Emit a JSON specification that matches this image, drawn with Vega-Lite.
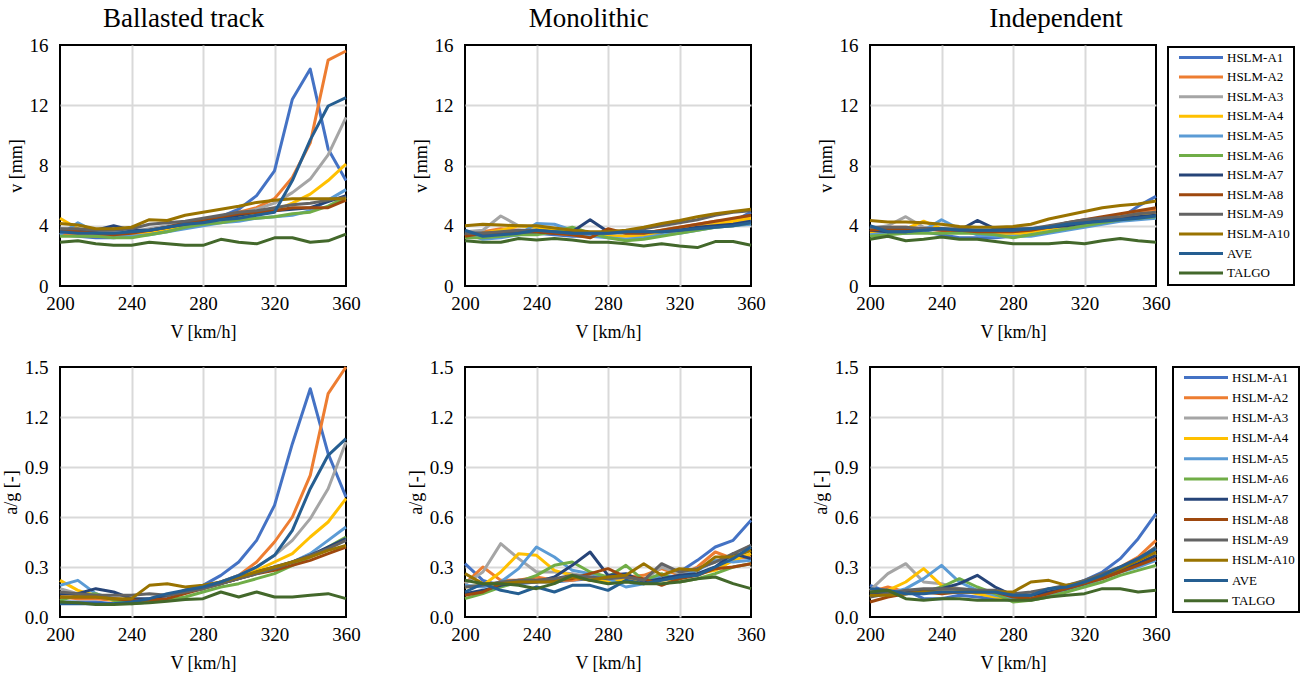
{
  "$schema": "https://vega.github.io/schema/vega-lite/v6.json",
  "background": "white",
  "padding": {"left": 1, "top": 4, "right": 0, "bottom": 0},
  "config": {
    "font": "Liberation Serif",
    "view": {"stroke": "black", "strokeWidth": 2},
    "axis": {
      "domain": false,
      "ticks": false,
      "gridColor": "#d9d9d9",
      "gridWidth": 2,
      "labelFlush": false,
      "labelFont": "Liberation Serif",
      "labelFontSize": 19,
      "labelColor": "black",
      "titleFont": "Liberation Serif",
      "titleFontSize": 18,
      "titleFontWeight": "normal",
      "titleColor": "black"
    },
    "axisX": {"labelPadding": 8, "titlePadding": 10},
    "axisY": {"labelPadding": 12, "titlePadding": 4},
    "title": {"font": "Liberation Serif", "fontSize": 27, "fontWeight": "normal", "color": "black", "frame": "bounds", "offset": 3},
    "line": {"strokeWidth": 3, "strokeJoin": "round"},
    "legend": {
      "title": null,
      "orient": "none",
      "padding": 4,
      "strokeColor": "black",
      "strokeWidth": 2,
      "fillColor": "white",
      "symbolType": "M-4.889,0H4.889",
      "symbolSize": 81,
      "symbolStrokeWidth": 3.5,
      "symbolOffset": 22.5,
      "labelOffset": 19.5,
      "labelFont": "Liberation Serif",
      "labelFontSize": 13,
      "labelColor": "black",
      "rowPadding": 5.6
    }
  },
  "columns": 3,
  "bounds": "flush",
  "spacing": {"row": 81, "column": 119},
  "resolve": {"scale": {"color": "independent"}},
  "datasets": {
    "bv": [
      {"s":"HSLM-A1","V":200,"y":3.4},{"s":"HSLM-A1","V":210,"y":3.3},{"s":"HSLM-A1","V":220,"y":3.2},{"s":"HSLM-A1","V":230,"y":3.2},{"s":"HSLM-A1","V":240,"y":3.3},{"s":"HSLM-A1","V":250,"y":3.5},{"s":"HSLM-A1","V":260,"y":3.8},{"s":"HSLM-A1","V":270,"y":4.1},{"s":"HSLM-A1","V":280,"y":4.3},{"s":"HSLM-A1","V":290,"y":4.6},{"s":"HSLM-A1","V":300,"y":5.1},{"s":"HSLM-A1","V":310,"y":6.0},{"s":"HSLM-A1","V":320,"y":7.65},{"s":"HSLM-A1","V":330,"y":12.4},{"s":"HSLM-A1","V":340,"y":14.4},{"s":"HSLM-A1","V":350,"y":9.1},{"s":"HSLM-A1","V":360,"y":7.0},
      {"s":"HSLM-A2","V":200,"y":3.5},{"s":"HSLM-A2","V":210,"y":3.4},{"s":"HSLM-A2","V":220,"y":3.3},{"s":"HSLM-A2","V":230,"y":3.3},{"s":"HSLM-A2","V":240,"y":3.4},{"s":"HSLM-A2","V":250,"y":3.6},{"s":"HSLM-A2","V":260,"y":3.9},{"s":"HSLM-A2","V":270,"y":4.1},{"s":"HSLM-A2","V":280,"y":4.4},{"s":"HSLM-A2","V":290,"y":4.6},{"s":"HSLM-A2","V":300,"y":4.9},{"s":"HSLM-A2","V":310,"y":5.2},{"s":"HSLM-A2","V":320,"y":5.8},{"s":"HSLM-A2","V":330,"y":7.2},{"s":"HSLM-A2","V":340,"y":9.5},{"s":"HSLM-A2","V":350,"y":15.0},{"s":"HSLM-A2","V":360,"y":15.6},
      {"s":"HSLM-A3","V":200,"y":3.8},{"s":"HSLM-A3","V":210,"y":3.7},{"s":"HSLM-A3","V":220,"y":3.6},{"s":"HSLM-A3","V":230,"y":3.5},{"s":"HSLM-A3","V":240,"y":3.6},{"s":"HSLM-A3","V":250,"y":3.8},{"s":"HSLM-A3","V":260,"y":4.0},{"s":"HSLM-A3","V":270,"y":4.2},{"s":"HSLM-A3","V":280,"y":4.4},{"s":"HSLM-A3","V":290,"y":4.6},{"s":"HSLM-A3","V":300,"y":4.8},{"s":"HSLM-A3","V":310,"y":5.1},{"s":"HSLM-A3","V":320,"y":5.5},{"s":"HSLM-A3","V":330,"y":6.2},{"s":"HSLM-A3","V":340,"y":7.1},{"s":"HSLM-A3","V":350,"y":8.7},{"s":"HSLM-A3","V":360,"y":11.2},
      {"s":"HSLM-A4","V":200,"y":4.5},{"s":"HSLM-A4","V":210,"y":3.8},{"s":"HSLM-A4","V":220,"y":3.5},{"s":"HSLM-A4","V":230,"y":3.4},{"s":"HSLM-A4","V":240,"y":3.5},{"s":"HSLM-A4","V":250,"y":3.6},{"s":"HSLM-A4","V":260,"y":3.8},{"s":"HSLM-A4","V":270,"y":4.0},{"s":"HSLM-A4","V":280,"y":4.2},{"s":"HSLM-A4","V":290,"y":4.4},{"s":"HSLM-A4","V":300,"y":4.6},{"s":"HSLM-A4","V":310,"y":4.8},{"s":"HSLM-A4","V":320,"y":5.0},{"s":"HSLM-A4","V":330,"y":5.5},{"s":"HSLM-A4","V":340,"y":6.1},{"s":"HSLM-A4","V":350,"y":7.0},{"s":"HSLM-A4","V":360,"y":8.1},
      {"s":"HSLM-A5","V":200,"y":3.4},{"s":"HSLM-A5","V":210,"y":4.2},{"s":"HSLM-A5","V":220,"y":3.6},{"s":"HSLM-A5","V":230,"y":3.3},{"s":"HSLM-A5","V":240,"y":3.3},{"s":"HSLM-A5","V":250,"y":3.4},{"s":"HSLM-A5","V":260,"y":3.6},{"s":"HSLM-A5","V":270,"y":3.8},{"s":"HSLM-A5","V":280,"y":4.0},{"s":"HSLM-A5","V":290,"y":4.2},{"s":"HSLM-A5","V":300,"y":4.3},{"s":"HSLM-A5","V":310,"y":4.5},{"s":"HSLM-A5","V":320,"y":4.6},{"s":"HSLM-A5","V":330,"y":4.7},{"s":"HSLM-A5","V":340,"y":5.0},{"s":"HSLM-A5","V":350,"y":5.7},{"s":"HSLM-A5","V":360,"y":6.4},
      {"s":"HSLM-A6","V":200,"y":3.3},{"s":"HSLM-A6","V":210,"y":3.3},{"s":"HSLM-A6","V":220,"y":3.3},{"s":"HSLM-A6","V":230,"y":3.2},{"s":"HSLM-A6","V":240,"y":3.2},{"s":"HSLM-A6","V":250,"y":3.4},{"s":"HSLM-A6","V":260,"y":3.6},{"s":"HSLM-A6","V":270,"y":3.9},{"s":"HSLM-A6","V":280,"y":4.1},{"s":"HSLM-A6","V":290,"y":4.2},{"s":"HSLM-A6","V":300,"y":4.4},{"s":"HSLM-A6","V":310,"y":4.5},{"s":"HSLM-A6","V":320,"y":4.6},{"s":"HSLM-A6","V":330,"y":4.8},{"s":"HSLM-A6","V":340,"y":4.9},{"s":"HSLM-A6","V":350,"y":5.3},{"s":"HSLM-A6","V":360,"y":5.9},
      {"s":"HSLM-A7","V":200,"y":3.6},{"s":"HSLM-A7","V":210,"y":3.6},{"s":"HSLM-A7","V":220,"y":3.7},{"s":"HSLM-A7","V":230,"y":4.0},{"s":"HSLM-A7","V":240,"y":3.7},{"s":"HSLM-A7","V":250,"y":3.7},{"s":"HSLM-A7","V":260,"y":3.9},{"s":"HSLM-A7","V":270,"y":4.1},{"s":"HSLM-A7","V":280,"y":4.3},{"s":"HSLM-A7","V":290,"y":4.5},{"s":"HSLM-A7","V":300,"y":4.7},{"s":"HSLM-A7","V":310,"y":4.9},{"s":"HSLM-A7","V":320,"y":5.0},{"s":"HSLM-A7","V":330,"y":5.1},{"s":"HSLM-A7","V":340,"y":5.2},{"s":"HSLM-A7","V":350,"y":5.6},{"s":"HSLM-A7","V":360,"y":6.0},
      {"s":"HSLM-A8","V":200,"y":3.7},{"s":"HSLM-A8","V":210,"y":3.6},{"s":"HSLM-A8","V":220,"y":3.5},{"s":"HSLM-A8","V":230,"y":3.4},{"s":"HSLM-A8","V":240,"y":3.5},{"s":"HSLM-A8","V":250,"y":3.7},{"s":"HSLM-A8","V":260,"y":3.9},{"s":"HSLM-A8","V":270,"y":4.2},{"s":"HSLM-A8","V":280,"y":4.4},{"s":"HSLM-A8","V":290,"y":4.6},{"s":"HSLM-A8","V":300,"y":4.8},{"s":"HSLM-A8","V":310,"y":4.9},{"s":"HSLM-A8","V":320,"y":5.0},{"s":"HSLM-A8","V":330,"y":5.2},{"s":"HSLM-A8","V":340,"y":5.2},{"s":"HSLM-A8","V":350,"y":5.2},{"s":"HSLM-A8","V":360,"y":5.7},
      {"s":"HSLM-A9","V":200,"y":3.8},{"s":"HSLM-A9","V":210,"y":3.8},{"s":"HSLM-A9","V":220,"y":3.7},{"s":"HSLM-A9","V":230,"y":3.7},{"s":"HSLM-A9","V":240,"y":3.8},{"s":"HSLM-A9","V":250,"y":4.1},{"s":"HSLM-A9","V":260,"y":4.2},{"s":"HSLM-A9","V":270,"y":4.3},{"s":"HSLM-A9","V":280,"y":4.5},{"s":"HSLM-A9","V":290,"y":4.7},{"s":"HSLM-A9","V":300,"y":4.9},{"s":"HSLM-A9","V":310,"y":5.0},{"s":"HSLM-A9","V":320,"y":5.2},{"s":"HSLM-A9","V":330,"y":5.4},{"s":"HSLM-A9","V":340,"y":5.5},{"s":"HSLM-A9","V":350,"y":5.7},{"s":"HSLM-A9","V":360,"y":5.9},
      {"s":"HSLM-A10","V":200,"y":4.15},{"s":"HSLM-A10","V":210,"y":4.05},{"s":"HSLM-A10","V":220,"y":3.8},{"s":"HSLM-A10","V":230,"y":3.8},{"s":"HSLM-A10","V":240,"y":3.9},{"s":"HSLM-A10","V":250,"y":4.4},{"s":"HSLM-A10","V":260,"y":4.35},{"s":"HSLM-A10","V":270,"y":4.7},{"s":"HSLM-A10","V":280,"y":4.9},{"s":"HSLM-A10","V":290,"y":5.1},{"s":"HSLM-A10","V":300,"y":5.3},{"s":"HSLM-A10","V":310,"y":5.55},{"s":"HSLM-A10","V":320,"y":5.7},{"s":"HSLM-A10","V":330,"y":5.8},{"s":"HSLM-A10","V":340,"y":5.8},{"s":"HSLM-A10","V":350,"y":5.8},{"s":"HSLM-A10","V":360,"y":5.8},
      {"s":"AVE","V":200,"y":3.6},{"s":"AVE","V":210,"y":3.5},{"s":"AVE","V":220,"y":3.5},{"s":"AVE","V":230,"y":3.5},{"s":"AVE","V":240,"y":3.6},{"s":"AVE","V":250,"y":3.7},{"s":"AVE","V":260,"y":3.9},{"s":"AVE","V":270,"y":4.1},{"s":"AVE","V":280,"y":4.2},{"s":"AVE","V":290,"y":4.4},{"s":"AVE","V":300,"y":4.5},{"s":"AVE","V":310,"y":4.7},{"s":"AVE","V":320,"y":4.9},{"s":"AVE","V":330,"y":7.0},{"s":"AVE","V":340,"y":9.7},{"s":"AVE","V":350,"y":11.95},{"s":"AVE","V":360,"y":12.5},
      {"s":"TALGO","V":200,"y":2.9},{"s":"TALGO","V":210,"y":3.0},{"s":"TALGO","V":220,"y":2.8},{"s":"TALGO","V":230,"y":2.7},{"s":"TALGO","V":240,"y":2.7},{"s":"TALGO","V":250,"y":2.9},{"s":"TALGO","V":260,"y":2.8},{"s":"TALGO","V":270,"y":2.7},{"s":"TALGO","V":280,"y":2.7},{"s":"TALGO","V":290,"y":3.1},{"s":"TALGO","V":300,"y":2.9},{"s":"TALGO","V":310,"y":2.8},{"s":"TALGO","V":320,"y":3.2},{"s":"TALGO","V":330,"y":3.2},{"s":"TALGO","V":340,"y":2.9},{"s":"TALGO","V":350,"y":3.0},{"s":"TALGO","V":360,"y":3.45}
    ],
    "mv": [
      {"s":"HSLM-A1","V":200,"y":3.6},{"s":"HSLM-A1","V":210,"y":3.2},{"s":"HSLM-A1","V":220,"y":3.3},{"s":"HSLM-A1","V":230,"y":3.4},{"s":"HSLM-A1","V":240,"y":3.5},{"s":"HSLM-A1","V":250,"y":3.4},{"s":"HSLM-A1","V":260,"y":3.3},{"s":"HSLM-A1","V":270,"y":3.3},{"s":"HSLM-A1","V":280,"y":3.4},{"s":"HSLM-A1","V":290,"y":3.5},{"s":"HSLM-A1","V":300,"y":3.5},{"s":"HSLM-A1","V":310,"y":3.6},{"s":"HSLM-A1","V":320,"y":3.8},{"s":"HSLM-A1","V":330,"y":3.9},{"s":"HSLM-A1","V":340,"y":4.1},{"s":"HSLM-A1","V":350,"y":4.3},{"s":"HSLM-A1","V":360,"y":4.9},
      {"s":"HSLM-A2","V":200,"y":3.3},{"s":"HSLM-A2","V":210,"y":3.6},{"s":"HSLM-A2","V":220,"y":3.8},{"s":"HSLM-A2","V":230,"y":3.7},{"s":"HSLM-A2","V":240,"y":3.6},{"s":"HSLM-A2","V":250,"y":3.5},{"s":"HSLM-A2","V":260,"y":3.4},{"s":"HSLM-A2","V":270,"y":3.3},{"s":"HSLM-A2","V":280,"y":3.5},{"s":"HSLM-A2","V":290,"y":3.5},{"s":"HSLM-A2","V":300,"y":3.5},{"s":"HSLM-A2","V":310,"y":3.7},{"s":"HSLM-A2","V":320,"y":3.9},{"s":"HSLM-A2","V":330,"y":4.1},{"s":"HSLM-A2","V":340,"y":4.3},{"s":"HSLM-A2","V":350,"y":4.4},{"s":"HSLM-A2","V":360,"y":4.6},
      {"s":"HSLM-A3","V":200,"y":3.6},{"s":"HSLM-A3","V":210,"y":3.7},{"s":"HSLM-A3","V":220,"y":4.65},{"s":"HSLM-A3","V":230,"y":4.0},{"s":"HSLM-A3","V":240,"y":3.9},{"s":"HSLM-A3","V":250,"y":3.8},{"s":"HSLM-A3","V":260,"y":3.6},{"s":"HSLM-A3","V":270,"y":3.5},{"s":"HSLM-A3","V":280,"y":3.4},{"s":"HSLM-A3","V":290,"y":3.4},{"s":"HSLM-A3","V":300,"y":3.5},{"s":"HSLM-A3","V":310,"y":3.6},{"s":"HSLM-A3","V":320,"y":3.8},{"s":"HSLM-A3","V":330,"y":3.9},{"s":"HSLM-A3","V":340,"y":4.0},{"s":"HSLM-A3","V":350,"y":4.2},{"s":"HSLM-A3","V":360,"y":4.4},
      {"s":"HSLM-A4","V":200,"y":3.4},{"s":"HSLM-A4","V":210,"y":3.5},{"s":"HSLM-A4","V":220,"y":3.7},{"s":"HSLM-A4","V":230,"y":4.0},{"s":"HSLM-A4","V":240,"y":3.9},{"s":"HSLM-A4","V":250,"y":3.7},{"s":"HSLM-A4","V":260,"y":3.5},{"s":"HSLM-A4","V":270,"y":3.4},{"s":"HSLM-A4","V":280,"y":3.3},{"s":"HSLM-A4","V":290,"y":3.3},{"s":"HSLM-A4","V":300,"y":3.3},{"s":"HSLM-A4","V":310,"y":3.5},{"s":"HSLM-A4","V":320,"y":3.7},{"s":"HSLM-A4","V":330,"y":3.9},{"s":"HSLM-A4","V":340,"y":4.1},{"s":"HSLM-A4","V":350,"y":4.3},{"s":"HSLM-A4","V":360,"y":4.5},
      {"s":"HSLM-A5","V":200,"y":3.5},{"s":"HSLM-A5","V":210,"y":3.1},{"s":"HSLM-A5","V":220,"y":3.2},{"s":"HSLM-A5","V":230,"y":3.4},{"s":"HSLM-A5","V":240,"y":4.15},{"s":"HSLM-A5","V":250,"y":4.1},{"s":"HSLM-A5","V":260,"y":3.7},{"s":"HSLM-A5","V":270,"y":3.3},{"s":"HSLM-A5","V":280,"y":3.2},{"s":"HSLM-A5","V":290,"y":3.1},{"s":"HSLM-A5","V":300,"y":3.2},{"s":"HSLM-A5","V":310,"y":3.4},{"s":"HSLM-A5","V":320,"y":3.5},{"s":"HSLM-A5","V":330,"y":3.7},{"s":"HSLM-A5","V":340,"y":3.9},{"s":"HSLM-A5","V":350,"y":4.0},{"s":"HSLM-A5","V":360,"y":4.1},
      {"s":"HSLM-A6","V":200,"y":3.2},{"s":"HSLM-A6","V":210,"y":3.2},{"s":"HSLM-A6","V":220,"y":3.3},{"s":"HSLM-A6","V":230,"y":3.4},{"s":"HSLM-A6","V":240,"y":3.4},{"s":"HSLM-A6","V":250,"y":3.6},{"s":"HSLM-A6","V":260,"y":3.9},{"s":"HSLM-A6","V":270,"y":3.5},{"s":"HSLM-A6","V":280,"y":3.2},{"s":"HSLM-A6","V":290,"y":3.0},{"s":"HSLM-A6","V":300,"y":3.1},{"s":"HSLM-A6","V":310,"y":3.3},{"s":"HSLM-A6","V":320,"y":3.5},{"s":"HSLM-A6","V":330,"y":3.7},{"s":"HSLM-A6","V":340,"y":3.9},{"s":"HSLM-A6","V":350,"y":4.0},{"s":"HSLM-A6","V":360,"y":4.2},
      {"s":"HSLM-A7","V":200,"y":3.5},{"s":"HSLM-A7","V":210,"y":3.5},{"s":"HSLM-A7","V":220,"y":3.5},{"s":"HSLM-A7","V":230,"y":3.6},{"s":"HSLM-A7","V":240,"y":3.6},{"s":"HSLM-A7","V":250,"y":3.5},{"s":"HSLM-A7","V":260,"y":3.6},{"s":"HSLM-A7","V":270,"y":4.4},{"s":"HSLM-A7","V":280,"y":3.6},{"s":"HSLM-A7","V":290,"y":3.6},{"s":"HSLM-A7","V":300,"y":3.6},{"s":"HSLM-A7","V":310,"y":3.6},{"s":"HSLM-A7","V":320,"y":3.7},{"s":"HSLM-A7","V":330,"y":3.9},{"s":"HSLM-A7","V":340,"y":4.0},{"s":"HSLM-A7","V":350,"y":4.1},{"s":"HSLM-A7","V":360,"y":4.3},
      {"s":"HSLM-A8","V":200,"y":3.3},{"s":"HSLM-A8","V":210,"y":3.5},{"s":"HSLM-A8","V":220,"y":3.5},{"s":"HSLM-A8","V":230,"y":3.6},{"s":"HSLM-A8","V":240,"y":3.6},{"s":"HSLM-A8","V":250,"y":3.5},{"s":"HSLM-A8","V":260,"y":3.4},{"s":"HSLM-A8","V":270,"y":3.2},{"s":"HSLM-A8","V":280,"y":3.8},{"s":"HSLM-A8","V":290,"y":3.5},{"s":"HSLM-A8","V":300,"y":3.5},{"s":"HSLM-A8","V":310,"y":3.7},{"s":"HSLM-A8","V":320,"y":3.9},{"s":"HSLM-A8","V":330,"y":4.1},{"s":"HSLM-A8","V":340,"y":4.3},{"s":"HSLM-A8","V":350,"y":4.5},{"s":"HSLM-A8","V":360,"y":4.7},
      {"s":"HSLM-A9","V":200,"y":3.5},{"s":"HSLM-A9","V":210,"y":3.5},{"s":"HSLM-A9","V":220,"y":3.6},{"s":"HSLM-A9","V":230,"y":3.7},{"s":"HSLM-A9","V":240,"y":3.7},{"s":"HSLM-A9","V":250,"y":3.6},{"s":"HSLM-A9","V":260,"y":3.5},{"s":"HSLM-A9","V":270,"y":3.5},{"s":"HSLM-A9","V":280,"y":3.5},{"s":"HSLM-A9","V":290,"y":3.6},{"s":"HSLM-A9","V":300,"y":3.8},{"s":"HSLM-A9","V":310,"y":4.0},{"s":"HSLM-A9","V":320,"y":4.2},{"s":"HSLM-A9","V":330,"y":4.4},{"s":"HSLM-A9","V":340,"y":4.7},{"s":"HSLM-A9","V":350,"y":4.9},{"s":"HSLM-A9","V":360,"y":5.0},
      {"s":"HSLM-A10","V":200,"y":4.0},{"s":"HSLM-A10","V":210,"y":4.1},{"s":"HSLM-A10","V":220,"y":4.05},{"s":"HSLM-A10","V":230,"y":4.0},{"s":"HSLM-A10","V":240,"y":4.0},{"s":"HSLM-A10","V":250,"y":3.85},{"s":"HSLM-A10","V":260,"y":3.7},{"s":"HSLM-A10","V":270,"y":3.6},{"s":"HSLM-A10","V":280,"y":3.6},{"s":"HSLM-A10","V":290,"y":3.7},{"s":"HSLM-A10","V":300,"y":3.9},{"s":"HSLM-A10","V":310,"y":4.15},{"s":"HSLM-A10","V":320,"y":4.35},{"s":"HSLM-A10","V":330,"y":4.6},{"s":"HSLM-A10","V":340,"y":4.8},{"s":"HSLM-A10","V":350,"y":4.95},{"s":"HSLM-A10","V":360,"y":5.1},
      {"s":"AVE","V":200,"y":3.7},{"s":"AVE","V":210,"y":3.3},{"s":"AVE","V":220,"y":3.4},{"s":"AVE","V":230,"y":3.5},{"s":"AVE","V":240,"y":3.7},{"s":"AVE","V":250,"y":3.6},{"s":"AVE","V":260,"y":3.5},{"s":"AVE","V":270,"y":3.5},{"s":"AVE","V":280,"y":3.5},{"s":"AVE","V":290,"y":3.6},{"s":"AVE","V":300,"y":3.6},{"s":"AVE","V":310,"y":3.6},{"s":"AVE","V":320,"y":3.7},{"s":"AVE","V":330,"y":3.8},{"s":"AVE","V":340,"y":3.9},{"s":"AVE","V":350,"y":4.0},{"s":"AVE","V":360,"y":4.2},
      {"s":"TALGO","V":200,"y":3.0},{"s":"TALGO","V":210,"y":2.9},{"s":"TALGO","V":220,"y":2.9},{"s":"TALGO","V":230,"y":3.15},{"s":"TALGO","V":240,"y":3.05},{"s":"TALGO","V":250,"y":3.15},{"s":"TALGO","V":260,"y":3.05},{"s":"TALGO","V":270,"y":2.9},{"s":"TALGO","V":280,"y":2.9},{"s":"TALGO","V":290,"y":2.8},{"s":"TALGO","V":300,"y":2.65},{"s":"TALGO","V":310,"y":2.8},{"s":"TALGO","V":320,"y":2.65},{"s":"TALGO","V":330,"y":2.55},{"s":"TALGO","V":340,"y":2.95},{"s":"TALGO","V":350,"y":2.95},{"s":"TALGO","V":360,"y":2.7}
    ],
    "iv": [
      {"s":"HSLM-A1","V":200,"y":3.9},{"s":"HSLM-A1","V":210,"y":3.5},{"s":"HSLM-A1","V":220,"y":3.5},{"s":"HSLM-A1","V":230,"y":3.6},{"s":"HSLM-A1","V":240,"y":3.4},{"s":"HSLM-A1","V":250,"y":3.2},{"s":"HSLM-A1","V":260,"y":3.2},{"s":"HSLM-A1","V":270,"y":3.2},{"s":"HSLM-A1","V":280,"y":3.3},{"s":"HSLM-A1","V":290,"y":3.4},{"s":"HSLM-A1","V":300,"y":3.6},{"s":"HSLM-A1","V":310,"y":3.8},{"s":"HSLM-A1","V":320,"y":4.0},{"s":"HSLM-A1","V":330,"y":4.2},{"s":"HSLM-A1","V":340,"y":4.5},{"s":"HSLM-A1","V":350,"y":5.3},{"s":"HSLM-A1","V":360,"y":5.95},
      {"s":"HSLM-A2","V":200,"y":3.6},{"s":"HSLM-A2","V":210,"y":3.9},{"s":"HSLM-A2","V":220,"y":3.9},{"s":"HSLM-A2","V":230,"y":3.8},{"s":"HSLM-A2","V":240,"y":3.7},{"s":"HSLM-A2","V":250,"y":3.6},{"s":"HSLM-A2","V":260,"y":3.5},{"s":"HSLM-A2","V":270,"y":3.5},{"s":"HSLM-A2","V":280,"y":3.5},{"s":"HSLM-A2","V":290,"y":3.7},{"s":"HSLM-A2","V":300,"y":3.9},{"s":"HSLM-A2","V":310,"y":4.1},{"s":"HSLM-A2","V":320,"y":4.3},{"s":"HSLM-A2","V":330,"y":4.5},{"s":"HSLM-A2","V":340,"y":4.7},{"s":"HSLM-A2","V":350,"y":4.9},{"s":"HSLM-A2","V":360,"y":5.1},
      {"s":"HSLM-A3","V":200,"y":3.8},{"s":"HSLM-A3","V":210,"y":4.0},{"s":"HSLM-A3","V":220,"y":4.6},{"s":"HSLM-A3","V":230,"y":3.9},{"s":"HSLM-A3","V":240,"y":3.8},{"s":"HSLM-A3","V":250,"y":3.6},{"s":"HSLM-A3","V":260,"y":3.5},{"s":"HSLM-A3","V":270,"y":3.4},{"s":"HSLM-A3","V":280,"y":3.4},{"s":"HSLM-A3","V":290,"y":3.6},{"s":"HSLM-A3","V":300,"y":3.8},{"s":"HSLM-A3","V":310,"y":4.0},{"s":"HSLM-A3","V":320,"y":4.2},{"s":"HSLM-A3","V":330,"y":4.4},{"s":"HSLM-A3","V":340,"y":4.5},{"s":"HSLM-A3","V":350,"y":4.6},{"s":"HSLM-A3","V":360,"y":4.8},
      {"s":"HSLM-A4","V":200,"y":3.5},{"s":"HSLM-A4","V":210,"y":3.6},{"s":"HSLM-A4","V":220,"y":3.8},{"s":"HSLM-A4","V":230,"y":4.3},{"s":"HSLM-A4","V":240,"y":3.8},{"s":"HSLM-A4","V":250,"y":3.6},{"s":"HSLM-A4","V":260,"y":3.5},{"s":"HSLM-A4","V":270,"y":3.4},{"s":"HSLM-A4","V":280,"y":3.4},{"s":"HSLM-A4","V":290,"y":3.6},{"s":"HSLM-A4","V":300,"y":3.8},{"s":"HSLM-A4","V":310,"y":4.0},{"s":"HSLM-A4","V":320,"y":4.2},{"s":"HSLM-A4","V":330,"y":4.4},{"s":"HSLM-A4","V":340,"y":4.6},{"s":"HSLM-A4","V":350,"y":4.7},{"s":"HSLM-A4","V":360,"y":4.9},
      {"s":"HSLM-A5","V":200,"y":3.4},{"s":"HSLM-A5","V":210,"y":3.5},{"s":"HSLM-A5","V":220,"y":3.6},{"s":"HSLM-A5","V":230,"y":3.7},{"s":"HSLM-A5","V":240,"y":4.4},{"s":"HSLM-A5","V":250,"y":3.8},{"s":"HSLM-A5","V":260,"y":3.4},{"s":"HSLM-A5","V":270,"y":3.3},{"s":"HSLM-A5","V":280,"y":3.3},{"s":"HSLM-A5","V":290,"y":3.3},{"s":"HSLM-A5","V":300,"y":3.5},{"s":"HSLM-A5","V":310,"y":3.7},{"s":"HSLM-A5","V":320,"y":3.9},{"s":"HSLM-A5","V":330,"y":4.1},{"s":"HSLM-A5","V":340,"y":4.3},{"s":"HSLM-A5","V":350,"y":4.4},{"s":"HSLM-A5","V":360,"y":4.5},
      {"s":"HSLM-A6","V":200,"y":3.3},{"s":"HSLM-A6","V":210,"y":3.4},{"s":"HSLM-A6","V":220,"y":3.5},{"s":"HSLM-A6","V":230,"y":3.5},{"s":"HSLM-A6","V":240,"y":3.5},{"s":"HSLM-A6","V":250,"y":3.5},{"s":"HSLM-A6","V":260,"y":3.5},{"s":"HSLM-A6","V":270,"y":3.4},{"s":"HSLM-A6","V":280,"y":3.2},{"s":"HSLM-A6","V":290,"y":3.4},{"s":"HSLM-A6","V":300,"y":3.6},{"s":"HSLM-A6","V":310,"y":3.8},{"s":"HSLM-A6","V":320,"y":4.0},{"s":"HSLM-A6","V":330,"y":4.2},{"s":"HSLM-A6","V":340,"y":4.4},{"s":"HSLM-A6","V":350,"y":4.5},{"s":"HSLM-A6","V":360,"y":4.6},
      {"s":"HSLM-A7","V":200,"y":3.7},{"s":"HSLM-A7","V":210,"y":3.6},{"s":"HSLM-A7","V":220,"y":3.6},{"s":"HSLM-A7","V":230,"y":3.8},{"s":"HSLM-A7","V":240,"y":3.8},{"s":"HSLM-A7","V":250,"y":3.7},{"s":"HSLM-A7","V":260,"y":4.35},{"s":"HSLM-A7","V":270,"y":3.8},{"s":"HSLM-A7","V":280,"y":3.8},{"s":"HSLM-A7","V":290,"y":3.8},{"s":"HSLM-A7","V":300,"y":3.9},{"s":"HSLM-A7","V":310,"y":4.0},{"s":"HSLM-A7","V":320,"y":4.2},{"s":"HSLM-A7","V":330,"y":4.4},{"s":"HSLM-A7","V":340,"y":4.5},{"s":"HSLM-A7","V":350,"y":4.6},{"s":"HSLM-A7","V":360,"y":4.7},
      {"s":"HSLM-A8","V":200,"y":3.7},{"s":"HSLM-A8","V":210,"y":3.8},{"s":"HSLM-A8","V":220,"y":3.8},{"s":"HSLM-A8","V":230,"y":3.8},{"s":"HSLM-A8","V":240,"y":3.7},{"s":"HSLM-A8","V":250,"y":3.7},{"s":"HSLM-A8","V":260,"y":3.6},{"s":"HSLM-A8","V":270,"y":3.6},{"s":"HSLM-A8","V":280,"y":3.6},{"s":"HSLM-A8","V":290,"y":3.7},{"s":"HSLM-A8","V":300,"y":3.9},{"s":"HSLM-A8","V":310,"y":4.2},{"s":"HSLM-A8","V":320,"y":4.4},{"s":"HSLM-A8","V":330,"y":4.6},{"s":"HSLM-A8","V":340,"y":4.8},{"s":"HSLM-A8","V":350,"y":5.0},{"s":"HSLM-A8","V":360,"y":5.2},
      {"s":"HSLM-A9","V":200,"y":3.9},{"s":"HSLM-A9","V":210,"y":3.9},{"s":"HSLM-A9","V":220,"y":3.9},{"s":"HSLM-A9","V":230,"y":3.8},{"s":"HSLM-A9","V":240,"y":3.8},{"s":"HSLM-A9","V":250,"y":3.8},{"s":"HSLM-A9","V":260,"y":3.7},{"s":"HSLM-A9","V":270,"y":3.7},{"s":"HSLM-A9","V":280,"y":3.7},{"s":"HSLM-A9","V":290,"y":3.8},{"s":"HSLM-A9","V":300,"y":4.0},{"s":"HSLM-A9","V":310,"y":4.2},{"s":"HSLM-A9","V":320,"y":4.4},{"s":"HSLM-A9","V":330,"y":4.5},{"s":"HSLM-A9","V":340,"y":4.6},{"s":"HSLM-A9","V":350,"y":4.8},{"s":"HSLM-A9","V":360,"y":4.9},
      {"s":"HSLM-A10","V":200,"y":4.35},{"s":"HSLM-A10","V":210,"y":4.25},{"s":"HSLM-A10","V":220,"y":4.25},{"s":"HSLM-A10","V":230,"y":4.2},{"s":"HSLM-A10","V":240,"y":4.1},{"s":"HSLM-A10","V":250,"y":3.95},{"s":"HSLM-A10","V":260,"y":3.9},{"s":"HSLM-A10","V":270,"y":3.9},{"s":"HSLM-A10","V":280,"y":3.95},{"s":"HSLM-A10","V":290,"y":4.1},{"s":"HSLM-A10","V":300,"y":4.45},{"s":"HSLM-A10","V":310,"y":4.7},{"s":"HSLM-A10","V":320,"y":4.95},{"s":"HSLM-A10","V":330,"y":5.2},{"s":"HSLM-A10","V":340,"y":5.35},{"s":"HSLM-A10","V":350,"y":5.45},{"s":"HSLM-A10","V":360,"y":5.65},
      {"s":"AVE","V":200,"y":4.0},{"s":"AVE","V":210,"y":3.6},{"s":"AVE","V":220,"y":3.6},{"s":"AVE","V":230,"y":3.7},{"s":"AVE","V":240,"y":3.8},{"s":"AVE","V":250,"y":3.7},{"s":"AVE","V":260,"y":3.7},{"s":"AVE","V":270,"y":3.7},{"s":"AVE","V":280,"y":3.7},{"s":"AVE","V":290,"y":3.8},{"s":"AVE","V":300,"y":3.9},{"s":"AVE","V":310,"y":4.1},{"s":"AVE","V":320,"y":4.2},{"s":"AVE","V":330,"y":4.3},{"s":"AVE","V":340,"y":4.4},{"s":"AVE","V":350,"y":4.5},{"s":"AVE","V":360,"y":4.65},
      {"s":"TALGO","V":200,"y":3.1},{"s":"TALGO","V":210,"y":3.3},{"s":"TALGO","V":220,"y":3.0},{"s":"TALGO","V":230,"y":3.1},{"s":"TALGO","V":240,"y":3.25},{"s":"TALGO","V":250,"y":3.1},{"s":"TALGO","V":260,"y":3.1},{"s":"TALGO","V":270,"y":2.95},{"s":"TALGO","V":280,"y":2.8},{"s":"TALGO","V":290,"y":2.8},{"s":"TALGO","V":300,"y":2.8},{"s":"TALGO","V":310,"y":2.9},{"s":"TALGO","V":320,"y":2.8},{"s":"TALGO","V":330,"y":3.0},{"s":"TALGO","V":340,"y":3.15},{"s":"TALGO","V":350,"y":3.0},{"s":"TALGO","V":360,"y":2.9}
    ],
    "ba": [
      {"s":"HSLM-A1","V":200,"y":0.09},{"s":"HSLM-A1","V":210,"y":0.09},{"s":"HSLM-A1","V":220,"y":0.09},{"s":"HSLM-A1","V":230,"y":0.08},{"s":"HSLM-A1","V":240,"y":0.09},{"s":"HSLM-A1","V":250,"y":0.10},{"s":"HSLM-A1","V":260,"y":0.13},{"s":"HSLM-A1","V":270,"y":0.16},{"s":"HSLM-A1","V":280,"y":0.19},{"s":"HSLM-A1","V":290,"y":0.25},{"s":"HSLM-A1","V":300,"y":0.33},{"s":"HSLM-A1","V":310,"y":0.46},{"s":"HSLM-A1","V":320,"y":0.67},{"s":"HSLM-A1","V":330,"y":1.04},{"s":"HSLM-A1","V":340,"y":1.37},{"s":"HSLM-A1","V":350,"y":0.98},{"s":"HSLM-A1","V":360,"y":0.72},
      {"s":"HSLM-A2","V":200,"y":0.12},{"s":"HSLM-A2","V":210,"y":0.11},{"s":"HSLM-A2","V":220,"y":0.11},{"s":"HSLM-A2","V":230,"y":0.10},{"s":"HSLM-A2","V":240,"y":0.09},{"s":"HSLM-A2","V":250,"y":0.10},{"s":"HSLM-A2","V":260,"y":0.12},{"s":"HSLM-A2","V":270,"y":0.15},{"s":"HSLM-A2","V":280,"y":0.18},{"s":"HSLM-A2","V":290,"y":0.21},{"s":"HSLM-A2","V":300,"y":0.25},{"s":"HSLM-A2","V":310,"y":0.33},{"s":"HSLM-A2","V":320,"y":0.45},{"s":"HSLM-A2","V":330,"y":0.60},{"s":"HSLM-A2","V":340,"y":0.85},{"s":"HSLM-A2","V":350,"y":1.34},{"s":"HSLM-A2","V":360,"y":1.50},
      {"s":"HSLM-A3","V":200,"y":0.17},{"s":"HSLM-A3","V":210,"y":0.14},{"s":"HSLM-A3","V":220,"y":0.12},{"s":"HSLM-A3","V":230,"y":0.11},{"s":"HSLM-A3","V":240,"y":0.10},{"s":"HSLM-A3","V":250,"y":0.10},{"s":"HSLM-A3","V":260,"y":0.12},{"s":"HSLM-A3","V":270,"y":0.15},{"s":"HSLM-A3","V":280,"y":0.18},{"s":"HSLM-A3","V":290,"y":0.21},{"s":"HSLM-A3","V":300,"y":0.25},{"s":"HSLM-A3","V":310,"y":0.30},{"s":"HSLM-A3","V":320,"y":0.37},{"s":"HSLM-A3","V":330,"y":0.46},{"s":"HSLM-A3","V":340,"y":0.59},{"s":"HSLM-A3","V":350,"y":0.77},{"s":"HSLM-A3","V":360,"y":1.05},
      {"s":"HSLM-A4","V":200,"y":0.22},{"s":"HSLM-A4","V":210,"y":0.16},{"s":"HSLM-A4","V":220,"y":0.13},{"s":"HSLM-A4","V":230,"y":0.10},{"s":"HSLM-A4","V":240,"y":0.09},{"s":"HSLM-A4","V":250,"y":0.10},{"s":"HSLM-A4","V":260,"y":0.12},{"s":"HSLM-A4","V":270,"y":0.15},{"s":"HSLM-A4","V":280,"y":0.18},{"s":"HSLM-A4","V":290,"y":0.21},{"s":"HSLM-A4","V":300,"y":0.24},{"s":"HSLM-A4","V":310,"y":0.28},{"s":"HSLM-A4","V":320,"y":0.33},{"s":"HSLM-A4","V":330,"y":0.38},{"s":"HSLM-A4","V":340,"y":0.48},{"s":"HSLM-A4","V":350,"y":0.57},{"s":"HSLM-A4","V":360,"y":0.71},
      {"s":"HSLM-A5","V":200,"y":0.19},{"s":"HSLM-A5","V":210,"y":0.22},{"s":"HSLM-A5","V":220,"y":0.14},{"s":"HSLM-A5","V":230,"y":0.11},{"s":"HSLM-A5","V":240,"y":0.09},{"s":"HSLM-A5","V":250,"y":0.10},{"s":"HSLM-A5","V":260,"y":0.12},{"s":"HSLM-A5","V":270,"y":0.15},{"s":"HSLM-A5","V":280,"y":0.17},{"s":"HSLM-A5","V":290,"y":0.20},{"s":"HSLM-A5","V":300,"y":0.23},{"s":"HSLM-A5","V":310,"y":0.26},{"s":"HSLM-A5","V":320,"y":0.29},{"s":"HSLM-A5","V":330,"y":0.33},{"s":"HSLM-A5","V":340,"y":0.38},{"s":"HSLM-A5","V":350,"y":0.46},{"s":"HSLM-A5","V":360,"y":0.54},
      {"s":"HSLM-A6","V":200,"y":0.10},{"s":"HSLM-A6","V":210,"y":0.13},{"s":"HSLM-A6","V":220,"y":0.14},{"s":"HSLM-A6","V":230,"y":0.10},{"s":"HSLM-A6","V":240,"y":0.08},{"s":"HSLM-A6","V":250,"y":0.09},{"s":"HSLM-A6","V":260,"y":0.10},{"s":"HSLM-A6","V":270,"y":0.12},{"s":"HSLM-A6","V":280,"y":0.15},{"s":"HSLM-A6","V":290,"y":0.18},{"s":"HSLM-A6","V":300,"y":0.20},{"s":"HSLM-A6","V":310,"y":0.23},{"s":"HSLM-A6","V":320,"y":0.26},{"s":"HSLM-A6","V":330,"y":0.31},{"s":"HSLM-A6","V":340,"y":0.36},{"s":"HSLM-A6","V":350,"y":0.42},{"s":"HSLM-A6","V":360,"y":0.48},
      {"s":"HSLM-A7","V":200,"y":0.14},{"s":"HSLM-A7","V":210,"y":0.14},{"s":"HSLM-A7","V":220,"y":0.17},{"s":"HSLM-A7","V":230,"y":0.15},{"s":"HSLM-A7","V":240,"y":0.11},{"s":"HSLM-A7","V":250,"y":0.11},{"s":"HSLM-A7","V":260,"y":0.13},{"s":"HSLM-A7","V":270,"y":0.16},{"s":"HSLM-A7","V":280,"y":0.18},{"s":"HSLM-A7","V":290,"y":0.20},{"s":"HSLM-A7","V":300,"y":0.23},{"s":"HSLM-A7","V":310,"y":0.27},{"s":"HSLM-A7","V":320,"y":0.30},{"s":"HSLM-A7","V":330,"y":0.33},{"s":"HSLM-A7","V":340,"y":0.37},{"s":"HSLM-A7","V":350,"y":0.42},{"s":"HSLM-A7","V":360,"y":0.47},
      {"s":"HSLM-A8","V":200,"y":0.12},{"s":"HSLM-A8","V":210,"y":0.12},{"s":"HSLM-A8","V":220,"y":0.12},{"s":"HSLM-A8","V":230,"y":0.11},{"s":"HSLM-A8","V":240,"y":0.10},{"s":"HSLM-A8","V":250,"y":0.10},{"s":"HSLM-A8","V":260,"y":0.11},{"s":"HSLM-A8","V":270,"y":0.14},{"s":"HSLM-A8","V":280,"y":0.17},{"s":"HSLM-A8","V":290,"y":0.20},{"s":"HSLM-A8","V":300,"y":0.23},{"s":"HSLM-A8","V":310,"y":0.26},{"s":"HSLM-A8","V":320,"y":0.28},{"s":"HSLM-A8","V":330,"y":0.31},{"s":"HSLM-A8","V":340,"y":0.34},{"s":"HSLM-A8","V":350,"y":0.38},{"s":"HSLM-A8","V":360,"y":0.42},
      {"s":"HSLM-A9","V":200,"y":0.15},{"s":"HSLM-A9","V":210,"y":0.14},{"s":"HSLM-A9","V":220,"y":0.13},{"s":"HSLM-A9","V":230,"y":0.13},{"s":"HSLM-A9","V":240,"y":0.13},{"s":"HSLM-A9","V":250,"y":0.14},{"s":"HSLM-A9","V":260,"y":0.13},{"s":"HSLM-A9","V":270,"y":0.15},{"s":"HSLM-A9","V":280,"y":0.17},{"s":"HSLM-A9","V":290,"y":0.20},{"s":"HSLM-A9","V":300,"y":0.23},{"s":"HSLM-A9","V":310,"y":0.26},{"s":"HSLM-A9","V":320,"y":0.29},{"s":"HSLM-A9","V":330,"y":0.33},{"s":"HSLM-A9","V":340,"y":0.37},{"s":"HSLM-A9","V":350,"y":0.41},{"s":"HSLM-A9","V":360,"y":0.46},
      {"s":"HSLM-A10","V":200,"y":0.12},{"s":"HSLM-A10","V":210,"y":0.12},{"s":"HSLM-A10","V":220,"y":0.12},{"s":"HSLM-A10","V":230,"y":0.11},{"s":"HSLM-A10","V":240,"y":0.11},{"s":"HSLM-A10","V":250,"y":0.19},{"s":"HSLM-A10","V":260,"y":0.20},{"s":"HSLM-A10","V":270,"y":0.18},{"s":"HSLM-A10","V":280,"y":0.19},{"s":"HSLM-A10","V":290,"y":0.21},{"s":"HSLM-A10","V":300,"y":0.24},{"s":"HSLM-A10","V":310,"y":0.27},{"s":"HSLM-A10","V":320,"y":0.30},{"s":"HSLM-A10","V":330,"y":0.33},{"s":"HSLM-A10","V":340,"y":0.36},{"s":"HSLM-A10","V":350,"y":0.40},{"s":"HSLM-A10","V":360,"y":0.43},
      {"s":"AVE","V":200,"y":0.08},{"s":"AVE","V":210,"y":0.08},{"s":"AVE","V":220,"y":0.08},{"s":"AVE","V":230,"y":0.08},{"s":"AVE","V":240,"y":0.09},{"s":"AVE","V":250,"y":0.11},{"s":"AVE","V":260,"y":0.14},{"s":"AVE","V":270,"y":0.16},{"s":"AVE","V":280,"y":0.18},{"s":"AVE","V":290,"y":0.21},{"s":"AVE","V":300,"y":0.25},{"s":"AVE","V":310,"y":0.30},{"s":"AVE","V":320,"y":0.37},{"s":"AVE","V":330,"y":0.52},{"s":"AVE","V":340,"y":0.77},{"s":"AVE","V":350,"y":0.97},{"s":"AVE","V":360,"y":1.07},
      {"s":"TALGO","V":200,"y":0.09},{"s":"TALGO","V":210,"y":0.085},{"s":"TALGO","V":220,"y":0.075},{"s":"TALGO","V":230,"y":0.075},{"s":"TALGO","V":240,"y":0.08},{"s":"TALGO","V":250,"y":0.085},{"s":"TALGO","V":260,"y":0.095},{"s":"TALGO","V":270,"y":0.105},{"s":"TALGO","V":280,"y":0.11},{"s":"TALGO","V":290,"y":0.15},{"s":"TALGO","V":300,"y":0.12},{"s":"TALGO","V":310,"y":0.15},{"s":"TALGO","V":320,"y":0.12},{"s":"TALGO","V":330,"y":0.12},{"s":"TALGO","V":340,"y":0.13},{"s":"TALGO","V":350,"y":0.14},{"s":"TALGO","V":360,"y":0.11}
    ],
    "ma": [
      {"s":"HSLM-A1","V":200,"y":0.32},{"s":"HSLM-A1","V":210,"y":0.22},{"s":"HSLM-A1","V":220,"y":0.19},{"s":"HSLM-A1","V":230,"y":0.20},{"s":"HSLM-A1","V":240,"y":0.21},{"s":"HSLM-A1","V":250,"y":0.21},{"s":"HSLM-A1","V":260,"y":0.22},{"s":"HSLM-A1","V":270,"y":0.23},{"s":"HSLM-A1","V":280,"y":0.21},{"s":"HSLM-A1","V":290,"y":0.24},{"s":"HSLM-A1","V":300,"y":0.22},{"s":"HSLM-A1","V":310,"y":0.31},{"s":"HSLM-A1","V":320,"y":0.27},{"s":"HSLM-A1","V":330,"y":0.34},{"s":"HSLM-A1","V":340,"y":0.42},{"s":"HSLM-A1","V":350,"y":0.46},{"s":"HSLM-A1","V":360,"y":0.58},
      {"s":"HSLM-A2","V":200,"y":0.20},{"s":"HSLM-A2","V":210,"y":0.30},{"s":"HSLM-A2","V":220,"y":0.22},{"s":"HSLM-A2","V":230,"y":0.22},{"s":"HSLM-A2","V":240,"y":0.24},{"s":"HSLM-A2","V":250,"y":0.22},{"s":"HSLM-A2","V":260,"y":0.22},{"s":"HSLM-A2","V":270,"y":0.24},{"s":"HSLM-A2","V":280,"y":0.22},{"s":"HSLM-A2","V":290,"y":0.24},{"s":"HSLM-A2","V":300,"y":0.25},{"s":"HSLM-A2","V":310,"y":0.29},{"s":"HSLM-A2","V":320,"y":0.25},{"s":"HSLM-A2","V":330,"y":0.30},{"s":"HSLM-A2","V":340,"y":0.39},{"s":"HSLM-A2","V":350,"y":0.35},{"s":"HSLM-A2","V":360,"y":0.36},
      {"s":"HSLM-A3","V":200,"y":0.20},{"s":"HSLM-A3","V":210,"y":0.27},{"s":"HSLM-A3","V":220,"y":0.44},{"s":"HSLM-A3","V":230,"y":0.35},{"s":"HSLM-A3","V":240,"y":0.27},{"s":"HSLM-A3","V":250,"y":0.27},{"s":"HSLM-A3","V":260,"y":0.26},{"s":"HSLM-A3","V":270,"y":0.24},{"s":"HSLM-A3","V":280,"y":0.22},{"s":"HSLM-A3","V":290,"y":0.22},{"s":"HSLM-A3","V":300,"y":0.22},{"s":"HSLM-A3","V":310,"y":0.30},{"s":"HSLM-A3","V":320,"y":0.26},{"s":"HSLM-A3","V":330,"y":0.29},{"s":"HSLM-A3","V":340,"y":0.33},{"s":"HSLM-A3","V":350,"y":0.37},{"s":"HSLM-A3","V":360,"y":0.43},
      {"s":"HSLM-A4","V":200,"y":0.18},{"s":"HSLM-A4","V":210,"y":0.19},{"s":"HSLM-A4","V":220,"y":0.27},{"s":"HSLM-A4","V":230,"y":0.38},{"s":"HSLM-A4","V":240,"y":0.37},{"s":"HSLM-A4","V":250,"y":0.28},{"s":"HSLM-A4","V":260,"y":0.25},{"s":"HSLM-A4","V":270,"y":0.22},{"s":"HSLM-A4","V":280,"y":0.21},{"s":"HSLM-A4","V":290,"y":0.22},{"s":"HSLM-A4","V":300,"y":0.21},{"s":"HSLM-A4","V":310,"y":0.22},{"s":"HSLM-A4","V":320,"y":0.23},{"s":"HSLM-A4","V":330,"y":0.26},{"s":"HSLM-A4","V":340,"y":0.28},{"s":"HSLM-A4","V":350,"y":0.34},{"s":"HSLM-A4","V":360,"y":0.38},
      {"s":"HSLM-A5","V":200,"y":0.19},{"s":"HSLM-A5","V":210,"y":0.18},{"s":"HSLM-A5","V":220,"y":0.21},{"s":"HSLM-A5","V":230,"y":0.29},{"s":"HSLM-A5","V":240,"y":0.42},{"s":"HSLM-A5","V":250,"y":0.36},{"s":"HSLM-A5","V":260,"y":0.28},{"s":"HSLM-A5","V":270,"y":0.26},{"s":"HSLM-A5","V":280,"y":0.23},{"s":"HSLM-A5","V":290,"y":0.18},{"s":"HSLM-A5","V":300,"y":0.20},{"s":"HSLM-A5","V":310,"y":0.25},{"s":"HSLM-A5","V":320,"y":0.24},{"s":"HSLM-A5","V":330,"y":0.28},{"s":"HSLM-A5","V":340,"y":0.34},{"s":"HSLM-A5","V":350,"y":0.33},{"s":"HSLM-A5","V":360,"y":0.34},
      {"s":"HSLM-A6","V":200,"y":0.11},{"s":"HSLM-A6","V":210,"y":0.14},{"s":"HSLM-A6","V":220,"y":0.18},{"s":"HSLM-A6","V":230,"y":0.21},{"s":"HSLM-A6","V":240,"y":0.25},{"s":"HSLM-A6","V":250,"y":0.31},{"s":"HSLM-A6","V":260,"y":0.33},{"s":"HSLM-A6","V":270,"y":0.27},{"s":"HSLM-A6","V":280,"y":0.24},{"s":"HSLM-A6","V":290,"y":0.31},{"s":"HSLM-A6","V":300,"y":0.22},{"s":"HSLM-A6","V":310,"y":0.26},{"s":"HSLM-A6","V":320,"y":0.21},{"s":"HSLM-A6","V":330,"y":0.23},{"s":"HSLM-A6","V":340,"y":0.26},{"s":"HSLM-A6","V":350,"y":0.30},{"s":"HSLM-A6","V":360,"y":0.32},
      {"s":"HSLM-A7","V":200,"y":0.14},{"s":"HSLM-A7","V":210,"y":0.16},{"s":"HSLM-A7","V":220,"y":0.19},{"s":"HSLM-A7","V":230,"y":0.21},{"s":"HSLM-A7","V":240,"y":0.21},{"s":"HSLM-A7","V":250,"y":0.24},{"s":"HSLM-A7","V":260,"y":0.31},{"s":"HSLM-A7","V":270,"y":0.39},{"s":"HSLM-A7","V":280,"y":0.25},{"s":"HSLM-A7","V":290,"y":0.26},{"s":"HSLM-A7","V":300,"y":0.21},{"s":"HSLM-A7","V":310,"y":0.23},{"s":"HSLM-A7","V":320,"y":0.25},{"s":"HSLM-A7","V":330,"y":0.26},{"s":"HSLM-A7","V":340,"y":0.30},{"s":"HSLM-A7","V":350,"y":0.38},{"s":"HSLM-A7","V":360,"y":0.35},
      {"s":"HSLM-A8","V":200,"y":0.13},{"s":"HSLM-A8","V":210,"y":0.15},{"s":"HSLM-A8","V":220,"y":0.20},{"s":"HSLM-A8","V":230,"y":0.22},{"s":"HSLM-A8","V":240,"y":0.22},{"s":"HSLM-A8","V":250,"y":0.22},{"s":"HSLM-A8","V":260,"y":0.23},{"s":"HSLM-A8","V":270,"y":0.26},{"s":"HSLM-A8","V":280,"y":0.29},{"s":"HSLM-A8","V":290,"y":0.24},{"s":"HSLM-A8","V":300,"y":0.23},{"s":"HSLM-A8","V":310,"y":0.19},{"s":"HSLM-A8","V":320,"y":0.23},{"s":"HSLM-A8","V":330,"y":0.25},{"s":"HSLM-A8","V":340,"y":0.29},{"s":"HSLM-A8","V":350,"y":0.30},{"s":"HSLM-A8","V":360,"y":0.32},
      {"s":"HSLM-A9","V":200,"y":0.18},{"s":"HSLM-A9","V":210,"y":0.19},{"s":"HSLM-A9","V":220,"y":0.21},{"s":"HSLM-A9","V":230,"y":0.22},{"s":"HSLM-A9","V":240,"y":0.22},{"s":"HSLM-A9","V":250,"y":0.23},{"s":"HSLM-A9","V":260,"y":0.25},{"s":"HSLM-A9","V":270,"y":0.24},{"s":"HSLM-A9","V":280,"y":0.23},{"s":"HSLM-A9","V":290,"y":0.24},{"s":"HSLM-A9","V":300,"y":0.22},{"s":"HSLM-A9","V":310,"y":0.32},{"s":"HSLM-A9","V":320,"y":0.27},{"s":"HSLM-A9","V":330,"y":0.29},{"s":"HSLM-A9","V":340,"y":0.33},{"s":"HSLM-A9","V":350,"y":0.38},{"s":"HSLM-A9","V":360,"y":0.43},
      {"s":"HSLM-A10","V":200,"y":0.26},{"s":"HSLM-A10","V":210,"y":0.20},{"s":"HSLM-A10","V":220,"y":0.20},{"s":"HSLM-A10","V":230,"y":0.21},{"s":"HSLM-A10","V":240,"y":0.21},{"s":"HSLM-A10","V":250,"y":0.21},{"s":"HSLM-A10","V":260,"y":0.24},{"s":"HSLM-A10","V":270,"y":0.22},{"s":"HSLM-A10","V":280,"y":0.24},{"s":"HSLM-A10","V":290,"y":0.25},{"s":"HSLM-A10","V":300,"y":0.32},{"s":"HSLM-A10","V":310,"y":0.25},{"s":"HSLM-A10","V":320,"y":0.29},{"s":"HSLM-A10","V":330,"y":0.28},{"s":"HSLM-A10","V":340,"y":0.36},{"s":"HSLM-A10","V":350,"y":0.36},{"s":"HSLM-A10","V":360,"y":0.40},
      {"s":"AVE","V":200,"y":0.15},{"s":"AVE","V":210,"y":0.20},{"s":"AVE","V":220,"y":0.16},{"s":"AVE","V":230,"y":0.14},{"s":"AVE","V":240,"y":0.18},{"s":"AVE","V":250,"y":0.15},{"s":"AVE","V":260,"y":0.19},{"s":"AVE","V":270,"y":0.19},{"s":"AVE","V":280,"y":0.16},{"s":"AVE","V":290,"y":0.22},{"s":"AVE","V":300,"y":0.20},{"s":"AVE","V":310,"y":0.22},{"s":"AVE","V":320,"y":0.24},{"s":"AVE","V":330,"y":0.25},{"s":"AVE","V":340,"y":0.30},{"s":"AVE","V":350,"y":0.35},{"s":"AVE","V":360,"y":0.42},
      {"s":"TALGO","V":200,"y":0.22},{"s":"TALGO","V":210,"y":0.20},{"s":"TALGO","V":220,"y":0.20},{"s":"TALGO","V":230,"y":0.19},{"s":"TALGO","V":240,"y":0.17},{"s":"TALGO","V":250,"y":0.20},{"s":"TALGO","V":260,"y":0.25},{"s":"TALGO","V":270,"y":0.22},{"s":"TALGO","V":280,"y":0.20},{"s":"TALGO","V":290,"y":0.21},{"s":"TALGO","V":300,"y":0.20},{"s":"TALGO","V":310,"y":0.20},{"s":"TALGO","V":320,"y":0.21},{"s":"TALGO","V":330,"y":0.23},{"s":"TALGO","V":340,"y":0.24},{"s":"TALGO","V":350,"y":0.20},{"s":"TALGO","V":360,"y":0.17}
    ],
    "ia": [
      {"s":"HSLM-A1","V":200,"y":0.19},{"s":"HSLM-A1","V":210,"y":0.15},{"s":"HSLM-A1","V":220,"y":0.16},{"s":"HSLM-A1","V":230,"y":0.11},{"s":"HSLM-A1","V":240,"y":0.11},{"s":"HSLM-A1","V":250,"y":0.13},{"s":"HSLM-A1","V":260,"y":0.12},{"s":"HSLM-A1","V":270,"y":0.11},{"s":"HSLM-A1","V":280,"y":0.10},{"s":"HSLM-A1","V":290,"y":0.12},{"s":"HSLM-A1","V":300,"y":0.15},{"s":"HSLM-A1","V":310,"y":0.18},{"s":"HSLM-A1","V":320,"y":0.22},{"s":"HSLM-A1","V":330,"y":0.27},{"s":"HSLM-A1","V":340,"y":0.35},{"s":"HSLM-A1","V":350,"y":0.47},{"s":"HSLM-A1","V":360,"y":0.62},
      {"s":"HSLM-A2","V":200,"y":0.15},{"s":"HSLM-A2","V":210,"y":0.18},{"s":"HSLM-A2","V":220,"y":0.15},{"s":"HSLM-A2","V":230,"y":0.15},{"s":"HSLM-A2","V":240,"y":0.15},{"s":"HSLM-A2","V":250,"y":0.15},{"s":"HSLM-A2","V":260,"y":0.15},{"s":"HSLM-A2","V":270,"y":0.15},{"s":"HSLM-A2","V":280,"y":0.13},{"s":"HSLM-A2","V":290,"y":0.13},{"s":"HSLM-A2","V":300,"y":0.15},{"s":"HSLM-A2","V":310,"y":0.18},{"s":"HSLM-A2","V":320,"y":0.21},{"s":"HSLM-A2","V":330,"y":0.25},{"s":"HSLM-A2","V":340,"y":0.30},{"s":"HSLM-A2","V":350,"y":0.36},{"s":"HSLM-A2","V":360,"y":0.46},
      {"s":"HSLM-A3","V":200,"y":0.16},{"s":"HSLM-A3","V":210,"y":0.26},{"s":"HSLM-A3","V":220,"y":0.32},{"s":"HSLM-A3","V":230,"y":0.21},{"s":"HSLM-A3","V":240,"y":0.20},{"s":"HSLM-A3","V":250,"y":0.17},{"s":"HSLM-A3","V":260,"y":0.16},{"s":"HSLM-A3","V":270,"y":0.15},{"s":"HSLM-A3","V":280,"y":0.13},{"s":"HSLM-A3","V":290,"y":0.13},{"s":"HSLM-A3","V":300,"y":0.15},{"s":"HSLM-A3","V":310,"y":0.18},{"s":"HSLM-A3","V":320,"y":0.21},{"s":"HSLM-A3","V":330,"y":0.25},{"s":"HSLM-A3","V":340,"y":0.29},{"s":"HSLM-A3","V":350,"y":0.34},{"s":"HSLM-A3","V":360,"y":0.41},
      {"s":"HSLM-A4","V":200,"y":0.12},{"s":"HSLM-A4","V":210,"y":0.16},{"s":"HSLM-A4","V":220,"y":0.21},{"s":"HSLM-A4","V":230,"y":0.29},{"s":"HSLM-A4","V":240,"y":0.19},{"s":"HSLM-A4","V":250,"y":0.16},{"s":"HSLM-A4","V":260,"y":0.14},{"s":"HSLM-A4","V":270,"y":0.12},{"s":"HSLM-A4","V":280,"y":0.11},{"s":"HSLM-A4","V":290,"y":0.12},{"s":"HSLM-A4","V":300,"y":0.14},{"s":"HSLM-A4","V":310,"y":0.17},{"s":"HSLM-A4","V":320,"y":0.20},{"s":"HSLM-A4","V":330,"y":0.24},{"s":"HSLM-A4","V":340,"y":0.28},{"s":"HSLM-A4","V":350,"y":0.33},{"s":"HSLM-A4","V":360,"y":0.38},
      {"s":"HSLM-A5","V":200,"y":0.14},{"s":"HSLM-A5","V":210,"y":0.14},{"s":"HSLM-A5","V":220,"y":0.17},{"s":"HSLM-A5","V":230,"y":0.23},{"s":"HSLM-A5","V":240,"y":0.31},{"s":"HSLM-A5","V":250,"y":0.21},{"s":"HSLM-A5","V":260,"y":0.16},{"s":"HSLM-A5","V":270,"y":0.13},{"s":"HSLM-A5","V":280,"y":0.11},{"s":"HSLM-A5","V":290,"y":0.11},{"s":"HSLM-A5","V":300,"y":0.13},{"s":"HSLM-A5","V":310,"y":0.16},{"s":"HSLM-A5","V":320,"y":0.19},{"s":"HSLM-A5","V":330,"y":0.23},{"s":"HSLM-A5","V":340,"y":0.27},{"s":"HSLM-A5","V":350,"y":0.30},{"s":"HSLM-A5","V":360,"y":0.34},
      {"s":"HSLM-A6","V":200,"y":0.13},{"s":"HSLM-A6","V":210,"y":0.14},{"s":"HSLM-A6","V":220,"y":0.14},{"s":"HSLM-A6","V":230,"y":0.15},{"s":"HSLM-A6","V":240,"y":0.18},{"s":"HSLM-A6","V":250,"y":0.23},{"s":"HSLM-A6","V":260,"y":0.18},{"s":"HSLM-A6","V":270,"y":0.14},{"s":"HSLM-A6","V":280,"y":0.09},{"s":"HSLM-A6","V":290,"y":0.10},{"s":"HSLM-A6","V":300,"y":0.12},{"s":"HSLM-A6","V":310,"y":0.15},{"s":"HSLM-A6","V":320,"y":0.18},{"s":"HSLM-A6","V":330,"y":0.21},{"s":"HSLM-A6","V":340,"y":0.25},{"s":"HSLM-A6","V":350,"y":0.28},{"s":"HSLM-A6","V":360,"y":0.31},
      {"s":"HSLM-A7","V":200,"y":0.14},{"s":"HSLM-A7","V":210,"y":0.14},{"s":"HSLM-A7","V":220,"y":0.15},{"s":"HSLM-A7","V":230,"y":0.16},{"s":"HSLM-A7","V":240,"y":0.17},{"s":"HSLM-A7","V":250,"y":0.20},{"s":"HSLM-A7","V":260,"y":0.25},{"s":"HSLM-A7","V":270,"y":0.18},{"s":"HSLM-A7","V":280,"y":0.13},{"s":"HSLM-A7","V":290,"y":0.13},{"s":"HSLM-A7","V":300,"y":0.15},{"s":"HSLM-A7","V":310,"y":0.17},{"s":"HSLM-A7","V":320,"y":0.20},{"s":"HSLM-A7","V":330,"y":0.24},{"s":"HSLM-A7","V":340,"y":0.28},{"s":"HSLM-A7","V":350,"y":0.32},{"s":"HSLM-A7","V":360,"y":0.37},
      {"s":"HSLM-A8","V":200,"y":0.09},{"s":"HSLM-A8","V":210,"y":0.12},{"s":"HSLM-A8","V":220,"y":0.14},{"s":"HSLM-A8","V":230,"y":0.15},{"s":"HSLM-A8","V":240,"y":0.14},{"s":"HSLM-A8","V":250,"y":0.15},{"s":"HSLM-A8","V":260,"y":0.15},{"s":"HSLM-A8","V":270,"y":0.15},{"s":"HSLM-A8","V":280,"y":0.12},{"s":"HSLM-A8","V":290,"y":0.11},{"s":"HSLM-A8","V":300,"y":0.14},{"s":"HSLM-A8","V":310,"y":0.17},{"s":"HSLM-A8","V":320,"y":0.20},{"s":"HSLM-A8","V":330,"y":0.23},{"s":"HSLM-A8","V":340,"y":0.27},{"s":"HSLM-A8","V":350,"y":0.31},{"s":"HSLM-A8","V":360,"y":0.35},
      {"s":"HSLM-A9","V":200,"y":0.12},{"s":"HSLM-A9","V":210,"y":0.14},{"s":"HSLM-A9","V":220,"y":0.16},{"s":"HSLM-A9","V":230,"y":0.17},{"s":"HSLM-A9","V":240,"y":0.17},{"s":"HSLM-A9","V":250,"y":0.17},{"s":"HSLM-A9","V":260,"y":0.16},{"s":"HSLM-A9","V":270,"y":0.16},{"s":"HSLM-A9","V":280,"y":0.14},{"s":"HSLM-A9","V":290,"y":0.15},{"s":"HSLM-A9","V":300,"y":0.17},{"s":"HSLM-A9","V":310,"y":0.19},{"s":"HSLM-A9","V":320,"y":0.22},{"s":"HSLM-A9","V":330,"y":0.26},{"s":"HSLM-A9","V":340,"y":0.30},{"s":"HSLM-A9","V":350,"y":0.35},{"s":"HSLM-A9","V":360,"y":0.42},
      {"s":"HSLM-A10","V":200,"y":0.13},{"s":"HSLM-A10","V":210,"y":0.13},{"s":"HSLM-A10","V":220,"y":0.14},{"s":"HSLM-A10","V":230,"y":0.15},{"s":"HSLM-A10","V":240,"y":0.15},{"s":"HSLM-A10","V":250,"y":0.15},{"s":"HSLM-A10","V":260,"y":0.15},{"s":"HSLM-A10","V":270,"y":0.15},{"s":"HSLM-A10","V":280,"y":0.15},{"s":"HSLM-A10","V":290,"y":0.21},{"s":"HSLM-A10","V":300,"y":0.22},{"s":"HSLM-A10","V":310,"y":0.19},{"s":"HSLM-A10","V":320,"y":0.21},{"s":"HSLM-A10","V":330,"y":0.25},{"s":"HSLM-A10","V":340,"y":0.29},{"s":"HSLM-A10","V":350,"y":0.34},{"s":"HSLM-A10","V":360,"y":0.39},
      {"s":"AVE","V":200,"y":0.17},{"s":"AVE","V":210,"y":0.16},{"s":"AVE","V":220,"y":0.14},{"s":"AVE","V":230,"y":0.14},{"s":"AVE","V":240,"y":0.15},{"s":"AVE","V":250,"y":0.15},{"s":"AVE","V":260,"y":0.15},{"s":"AVE","V":270,"y":0.15},{"s":"AVE","V":280,"y":0.13},{"s":"AVE","V":290,"y":0.13},{"s":"AVE","V":300,"y":0.17},{"s":"AVE","V":310,"y":0.18},{"s":"AVE","V":320,"y":0.21},{"s":"AVE","V":330,"y":0.25},{"s":"AVE","V":340,"y":0.30},{"s":"AVE","V":350,"y":0.35},{"s":"AVE","V":360,"y":0.41},
      {"s":"TALGO","V":200,"y":0.15},{"s":"TALGO","V":210,"y":0.16},{"s":"TALGO","V":220,"y":0.11},{"s":"TALGO","V":230,"y":0.10},{"s":"TALGO","V":240,"y":0.11},{"s":"TALGO","V":250,"y":0.11},{"s":"TALGO","V":260,"y":0.10},{"s":"TALGO","V":270,"y":0.10},{"s":"TALGO","V":280,"y":0.10},{"s":"TALGO","V":290,"y":0.10},{"s":"TALGO","V":300,"y":0.12},{"s":"TALGO","V":310,"y":0.13},{"s":"TALGO","V":320,"y":0.14},{"s":"TALGO","V":330,"y":0.17},{"s":"TALGO","V":340,"y":0.17},{"s":"TALGO","V":350,"y":0.15},{"s":"TALGO","V":360,"y":0.16}
    ]
  },
  "concat": [
    {
      "data": {"name": "bv"},
      "title": "Ballasted track",
      "width": 286, "height": 241,
      "mark": {"type": "line"},
      "encoding": {
        "x": {"field": "V", "type": "quantitative", "scale": {"domain": [200, 360], "nice": false}, "axis": {"values": [200, 240, 280, 320, 360], "title": "V [km/h]", "gridOpacity": {"condition": {"test": "datum.value <= 200 || datum.value >= 360", "value": 0}, "value": 1}}},
        "y": {"field": "y", "type": "quantitative", "scale": {"domain": [0, 16], "nice": false}, "axis": {"values": [0, 4, 8, 12, 16], "title": "v [mm]", "gridOpacity": {"condition": {"test": "datum.value <= 0 || datum.value >= 16", "value": 0}, "value": 1}}},
        "color": {"field": "s", "type": "nominal", "legend": null, "scale": {"domain": ["HSLM-A1","HSLM-A2","HSLM-A3","HSLM-A4","HSLM-A5","HSLM-A6","HSLM-A7","HSLM-A8","HSLM-A9","HSLM-A10","AVE","TALGO"], "range": ["#4472c4","#ed7d31","#a5a5a5","#ffc000","#5b9bd5","#70ad47","#264478","#9e480e","#636363","#997300","#255e91","#43682b"]}}
      }
    },
    {
      "data": {"name": "mv"},
      "title": "Monolithic",
      "width": 286, "height": 241,
      "mark": {"type": "line"},
      "encoding": {
        "x": {"field": "V", "type": "quantitative", "scale": {"domain": [200, 360], "nice": false}, "axis": {"values": [200, 240, 280, 320, 360], "title": "V [km/h]", "gridOpacity": {"condition": {"test": "datum.value <= 200 || datum.value >= 360", "value": 0}, "value": 1}}},
        "y": {"field": "y", "type": "quantitative", "scale": {"domain": [0, 16], "nice": false}, "axis": {"values": [0, 4, 8, 12, 16], "title": "v [mm]", "gridOpacity": {"condition": {"test": "datum.value <= 0 || datum.value >= 16", "value": 0}, "value": 1}}},
        "color": {"field": "s", "type": "nominal", "legend": null, "scale": {"domain": ["HSLM-A1","HSLM-A2","HSLM-A3","HSLM-A4","HSLM-A5","HSLM-A6","HSLM-A7","HSLM-A8","HSLM-A9","HSLM-A10","AVE","TALGO"], "range": ["#4472c4","#ed7d31","#a5a5a5","#ffc000","#5b9bd5","#70ad47","#264478","#9e480e","#636363","#997300","#255e91","#43682b"]}}
      }
    },
    {
      "data": {"name": "iv"},
      "title": "Independent",
      "width": 286, "height": 241,
      "mark": {"type": "line"},
      "encoding": {
        "x": {"field": "V", "type": "quantitative", "scale": {"domain": [200, 360], "nice": false}, "axis": {"values": [200, 240, 280, 320, 360], "title": "V [km/h]", "gridOpacity": {"condition": {"test": "datum.value <= 200 || datum.value >= 360", "value": 0}, "value": 1}}},
        "y": {"field": "y", "type": "quantitative", "scale": {"domain": [0, 16], "nice": false}, "axis": {"values": [0, 4, 8, 12, 16], "title": "v [mm]", "gridOpacity": {"condition": {"test": "datum.value <= 0 || datum.value >= 16", "value": 0}, "value": 1}}},
        "color": {"field": "s", "type": "nominal", "legend": {"legendX": 298, "legendY": 2}, "scale": {"domain": ["HSLM-A1","HSLM-A2","HSLM-A3","HSLM-A4","HSLM-A5","HSLM-A6","HSLM-A7","HSLM-A8","HSLM-A9","HSLM-A10","AVE","TALGO"], "range": ["#4472c4","#ed7d31","#a5a5a5","#ffc000","#5b9bd5","#70ad47","#264478","#9e480e","#636363","#997300","#255e91","#43682b"]}}
      }
    },
    {
      "data": {"name": "ba"},
      "width": 286, "height": 250,
      "mark": {"type": "line"},
      "encoding": {
        "x": {"field": "V", "type": "quantitative", "scale": {"domain": [200, 360], "nice": false}, "axis": {"values": [200, 240, 280, 320, 360], "title": "V [km/h]", "gridOpacity": {"condition": {"test": "datum.value <= 200 || datum.value >= 360", "value": 0}, "value": 1}}},
        "y": {"field": "y", "type": "quantitative", "scale": {"domain": [0, 1.5], "nice": false}, "axis": {"values": [0, 0.3, 0.6, 0.9, 1.2, 1.5], "format": ".1f", "title": "a/g [-]", "gridOpacity": {"condition": {"test": "datum.value <= 0 || datum.value >= 1.5", "value": 0}, "value": 1}}},
        "color": {"field": "s", "type": "nominal", "legend": null, "scale": {"domain": ["HSLM-A1","HSLM-A2","HSLM-A3","HSLM-A4","HSLM-A5","HSLM-A6","HSLM-A7","HSLM-A8","HSLM-A9","HSLM-A10","AVE","TALGO"], "range": ["#4472c4","#ed7d31","#a5a5a5","#ffc000","#5b9bd5","#70ad47","#264478","#9e480e","#636363","#997300","#255e91","#43682b"]}}
      }
    },
    {
      "data": {"name": "ma"},
      "width": 286, "height": 250,
      "mark": {"type": "line"},
      "encoding": {
        "x": {"field": "V", "type": "quantitative", "scale": {"domain": [200, 360], "nice": false}, "axis": {"values": [200, 240, 280, 320, 360], "title": "V [km/h]", "gridOpacity": {"condition": {"test": "datum.value <= 200 || datum.value >= 360", "value": 0}, "value": 1}}},
        "y": {"field": "y", "type": "quantitative", "scale": {"domain": [0, 1.5], "nice": false}, "axis": {"values": [0, 0.3, 0.6, 0.9, 1.2, 1.5], "format": ".1f", "title": "a/g [-]", "gridOpacity": {"condition": {"test": "datum.value <= 0 || datum.value >= 1.5", "value": 0}, "value": 1}}},
        "color": {"field": "s", "type": "nominal", "legend": null, "scale": {"domain": ["HSLM-A1","HSLM-A2","HSLM-A3","HSLM-A4","HSLM-A5","HSLM-A6","HSLM-A7","HSLM-A8","HSLM-A9","HSLM-A10","AVE","TALGO"], "range": ["#4472c4","#ed7d31","#a5a5a5","#ffc000","#5b9bd5","#70ad47","#264478","#9e480e","#636363","#997300","#255e91","#43682b"]}}
      }
    },
    {
      "data": {"name": "ia"},
      "width": 286, "height": 250,
      "mark": {"type": "line"},
      "encoding": {
        "x": {"field": "V", "type": "quantitative", "scale": {"domain": [200, 360], "nice": false}, "axis": {"values": [200, 240, 280, 320, 360], "title": "V [km/h]", "gridOpacity": {"condition": {"test": "datum.value <= 200 || datum.value >= 360", "value": 0}, "value": 1}}},
        "y": {"field": "y", "type": "quantitative", "scale": {"domain": [0, 1.5], "nice": false}, "axis": {"values": [0, 0.3, 0.6, 0.9, 1.2, 1.5], "format": ".1f", "title": "a/g [-]", "gridOpacity": {"condition": {"test": "datum.value <= 0 || datum.value >= 1.5", "value": 0}, "value": 1}}},
        "color": {"field": "s", "type": "nominal", "legend": {"legendX": 303, "legendY": 0, "rowPadding": 6.3}, "scale": {"domain": ["HSLM-A1","HSLM-A2","HSLM-A3","HSLM-A4","HSLM-A5","HSLM-A6","HSLM-A7","HSLM-A8","HSLM-A9","HSLM-A10","AVE","TALGO"], "range": ["#4472c4","#ed7d31","#a5a5a5","#ffc000","#5b9bd5","#70ad47","#264478","#9e480e","#636363","#997300","#255e91","#43682b"]}}
      }
    }
  ]
}
